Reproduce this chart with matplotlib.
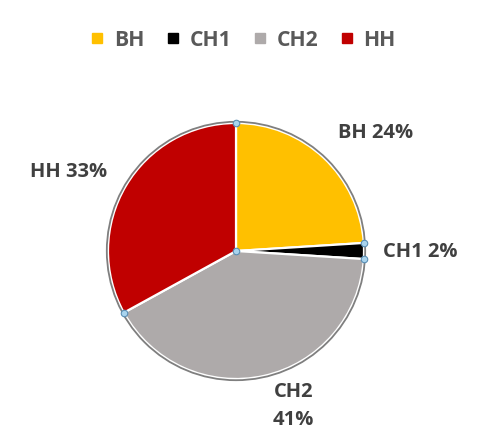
import matplotlib
matplotlib.use("Agg")
import matplotlib.pyplot as plt
from matplotlib.lines import Line2D
import numpy as np

categories = ["BH", "CH1", "CH2", "HH"]
values = [24, 2, 41, 33]
colors = ["#FFC000", "#000000", "#AEAAAA", "#C00000"]
label_texts = ["BH 24%", "CH1 2%", "CH2\n41%", "HH 33%"]
label_pos = [(1.094, 0.92), (1.44, -0.01), (0.45, -1.21), (-1.31, 0.62)]

W, H = 486, 436
fig = plt.figure(figsize=(W / 100, H / 100), dpi=100)
cx, cy, R = 236, 251, 128
half = 150
ax = fig.add_axes([(cx - half) / W, (H - cy - half) / H, 2 * half / W, 2 * half / H])
ax.axis("off")

font = "Open Sans"
wedges, _ = ax.pie(values, colors=colors, startangle=90, counterclock=False,
                   radius=1.0, wedgeprops=dict(edgecolor="white", linewidth=1.6))
ax.add_patch(plt.Circle((0, 0), 1.0 + 1.2 / R, fill=False, edgecolor="#7F7F7F", lw=1.3, zorder=5))
lim = half / R
ax.set_xlim(-lim, lim)
ax.set_ylim(-lim, lim)
ax.set_aspect("equal")

for t, (x, y) in zip(label_texts, label_pos):
    ax.text(x, y, t, ha="center", va="center", fontsize=14.5, fontweight="bold",
            color="#404040", family=font, linespacing=1.55)

# selection handles at slice boundaries and centre
cum = np.cumsum([0] + values[:-1]) / sum(values)
angs = np.deg2rad(90 - cum * 360)
hx = list(np.cos(angs)) + [0]
hy = list(np.sin(angs)) + [0]
ax.scatter(hx, hy, s=22, facecolor="#A9D4EE", edgecolor="#5A8FB5", linewidth=0.8, zorder=10)

handles = [Line2D([], [], marker="s", linestyle="none", markersize=7,
                  markerfacecolor=c, markeredgecolor=c) for c in colors]
leg = fig.legend(handles, categories, loc="center", bbox_to_anchor=(241 / W, 1 - 40 / H),
                 ncol=4, frameon=False, handletextpad=0.3, columnspacing=0.85,
                 handlelength=1.0, prop=dict(family=font, weight="bold", size=15.2))
for txt in leg.get_texts():
    txt.set_color("#595959")

fig.savefig("out.png", dpi=100)
